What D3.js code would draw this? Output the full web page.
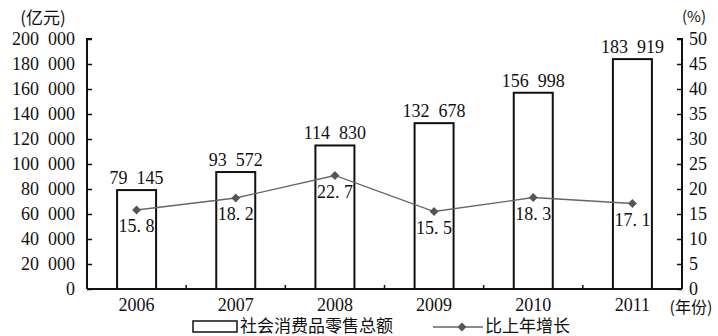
<!DOCTYPE html>
<html>
<head>
<meta charset="utf-8">
<script src="https://cdn.jsdelivr.net/npm/d3@7"></script>
<style>
  body { margin: 0; background: #fff; }
  text { fill: #111; }
</style>
</head>
<body>
<svg id="chart" width="718" height="336"></svg>
<script>
const years = ["2006", "2007", "2008", "2009", "2010", "2011"];
const sales = [79145, 93572, 114830, 132678, 156998, 183919];
const growth = [15.8, 18.2, 22.7, 15.5, 18.3, 17.1];
const leftTicks = [0, 20000, 40000, 60000, 80000, 100000, 120000, 140000, 160000, 180000, 200000];
const rightTicks = [0, 5, 10, 15, 20, 25, 30, 35, 40, 45, 50];

const svg = d3.select("#chart");
const numFont = "'Liberation Serif', 'DejaVu Serif', serif";
const cjkFont = "'Noto Sans CJK SC', sans-serif";

const x0 = 87, x1 = 682, yTop = 39, yBot = 289;

// group thousands the way the print does it: "183 919"
function fmt(v) {
    let s = String(v);
    if (s.length > 3) s = s.slice(0, s.length - 3) + "\u2002" + s.slice(s.length - 3);
    return s;
}

const x = d3.scaleBand().domain(years).range([x0, x1]).paddingInner(0).paddingOuter(0);
const yL = d3.scaleLinear().domain([0, 200000]).range([yBot, yTop]);
const yR = d3.scaleLinear().domain([0, 50]).range([yBot, yTop]);
const barW = 39;

// bars
svg.append("g")
    .selectAll("rect")
    .data(years)
    .enter()
    .append("rect")
    .attr("x", d => x(d) + x.bandwidth() / 2 - barW / 2)
    .attr("y", (d, i) => yL(sales[i]))
    .attr("width", barW)
    .attr("height", (d, i) => yBot - yL(sales[i]))
    .attr("fill", "#fff")
    .attr("stroke", "#111")
    .attr("stroke-width", 2);

// bar value labels
svg.append("g")
    .selectAll("text")
    .data(years)
    .enter()
    .append("text")
    .attr("x", d => x(d) + x.bandwidth() / 2)
    .attr("y", (d, i) => yL(sales[i]) - 6)
    .attr("text-anchor", "middle")
    .style("font-family", numFont)
    .style("font-size", "18px")
    .text((d, i) => fmt(sales[i]));

// left axis
const axL = d3.axisLeft(yL).tickValues(leftTicks).tickSize(-5).tickPadding(12).tickFormat(fmt);
const gL = svg.append("g").attr("transform", `translate(${x0},0)`).call(axL);
gL.select(".domain").attr("stroke", "#111").attr("stroke-width", 2).attr("d", `M5,${yTop}H0V${yBot}`);
gL.selectAll(".tick line").attr("stroke", "#111").attr("stroke-width", 1.5);
gL.selectAll(".tick text").style("font-family", numFont).style("font-size", "18px").attr("fill", "#111");

// right axis
const axR = d3.axisRight(yR).tickValues(rightTicks).tickSize(-5).tickPadding(7);
const gR = svg.append("g").attr("transform", `translate(${x1},0)`).call(axR);
gR.select(".domain").attr("stroke", "#111").attr("stroke-width", 2).attr("d", `M-5,${yTop}H0V${yBot}`);
gR.selectAll(".tick line").attr("stroke", "#111").attr("stroke-width", 1.5);
gR.selectAll(".tick text").style("font-family", numFont).style("font-size", "18px").attr("fill", "#111");

// bottom axis, small ticks at category boundaries
const gB = svg.append("g");
gB.append("line")
    .attr("x1", x0).attr("x2", x1).attr("y1", yBot).attr("y2", yBot)
    .attr("stroke", "#111").attr("stroke-width", 2);
gB.selectAll("line.sep")
    .data(years.slice(1))
    .enter()
    .append("line")
    .attr("class", "sep")
    .attr("x1", d => x(d)).attr("x2", d => x(d))
    .attr("y1", yBot).attr("y2", yBot - 4)
    .attr("stroke", "#111").attr("stroke-width", 1.5);
gB.selectAll("text")
    .data(years)
    .enter()
    .append("text")
    .attr("x", d => x(d) + x.bandwidth() / 2)
    .attr("y", yBot + 22)
    .attr("text-anchor", "middle")
    .style("font-family", numFont)
    .style("font-size", "18px")
    .text(d => d);

// growth line
const line = d3.line()
    .x((d, i) => x(years[i]) + x.bandwidth() / 2)
    .y(d => yR(d));
svg.append("path")
    .datum(growth)
    .attr("d", line)
    .attr("fill", "none")
    .attr("stroke", "#666")
    .attr("stroke-width", 1.3);
svg.append("g")
    .selectAll("path")
    .data(growth)
    .enter()
    .append("path")
    .attr("d", d3.symbol().type(d3.symbolDiamond2).size(50))
    .attr("transform", (d, i) => `translate(${x(years[i]) + x.bandwidth() / 2},${yR(d)})`)
    .attr("fill", "#555");
svg.append("g")
    .selectAll("text")
    .data(growth)
    .enter()
    .append("text")
    .attr("x", (d, i) => x(years[i]) + x.bandwidth() / 2)
    .attr("y", d => yR(d) + 22)
    .attr("text-anchor", "middle")
    .style("font-family", numFont)
    .style("font-size", "18px")
    .style("white-space", "pre")
    .text(d => d.toFixed(1).replace(".", ". "));

// unit labels
svg.append("text").attr("x", 43).attr("y", 24).attr("text-anchor", "middle")
    .style("font-family", cjkFont).style("font-size", "17px").text("(亿元)");
svg.append("text").attr("x", 694).attr("y", 22).attr("text-anchor", "middle")
    .style("font-family", cjkFont).style("font-size", "15px").text("(%)");
svg.append("text").attr("x", 691).attr("y", yBot + 24).attr("text-anchor", "middle")
    .style("font-family", cjkFont).style("font-size", "16px").text("(年份)");

// legend
const lg = svg.append("g");
lg.append("rect").attr("x", 193).attr("y", 321).attr("width", 44).attr("height", 11)
    .attr("fill", "#fff").attr("stroke", "#111").attr("stroke-width", 1.5);
lg.append("text").attr("x", 240).attr("y", 332)
    .style("font-family", cjkFont).style("font-size", "17px").text("社会消费品零售总额");
lg.append("line").attr("x1", 433).attr("x2", 483).attr("y1", 327).attr("y2", 327)
    .attr("stroke", "#666").attr("stroke-width", 1.3);
lg.append("path").attr("d", d3.symbol().type(d3.symbolDiamond2).size(50))
    .attr("transform", "translate(462,327)").attr("fill", "#555");
lg.append("text").attr("x", 485).attr("y", 332)
    .style("font-family", cjkFont).style("font-size", "17px").text("比上年增长");
</script>
</body>
</html>
